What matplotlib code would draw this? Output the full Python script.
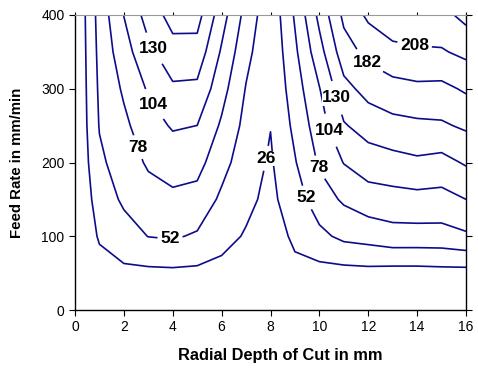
import matplotlib
matplotlib.use('Agg')
import matplotlib.pyplot as plt
import numpy as np

plt.rcParams['font.family'] = ['Liberation Sans', 'DejaVu Sans']

# grid: radial depth of cut (mm) x feed rate (mm/min)
depth = np.arange(0, 17, 1)
feed = np.arange(0, 401, 50)
levels = [26, 52, 78, 104, 130, 156, 182, 208, 234]

# one row per feed value, one column per depth value
z = np.array([
    [0, 0, 0, 0, 0, 0, 0, 0, 0, 0, 0, 0, 0, 0, 0, 0, 0],
    [0, 15.5, 20.5, 20.3, 21.0, 20.2, 19.3, 12.0, 8.0, 20.2, 17.1, 17.0, 18.0, 16.1, 16.1, 17.3, 17.0],
    [0, 28.9, 41.5, 52.5, 54.7, 49.1, 33.3, 24.0, 15.0, 30.2, 45.7, 58.0, 62.0, 68.1, 68.0, 68.3, 74.0],
    [0, 38.1, 56.1, 67.1, 72.3, 69.0, 47.2, 31.4, 20.0, 40.2, 65.8, 81.7, 92.3, 94.7, 96.4, 95.3, 104.0],
    [0, 47.2, 64.3, 81.5, 89.7, 86.9, 60.8, 37.8, 23.0, 50.2, 81.3, 104.9, 117.0, 121.0, 125.4, 121.7, 132.8],
    [0, 53.4, 72.4, 93.8, 106.5, 103.9, 74.2, 44.2, 26.6, 58.1, 92.1, 127.7, 141.0, 148.1, 151.0, 152.6, 160.0],
    [0, 56.3, 81.7, 106.9, 126.0, 124.6, 87.6, 50.6, 29.0, 65.6, 102.9, 148.0, 165.1, 173.1, 176.6, 175.5, 185.5],
    [0, 59.1, 93.1, 123.9, 146.2, 145.8, 100.8, 59.4, 31.0, 73.1, 120.3, 170.7, 189.5, 200.6, 204.1, 205.6, 214.1],
    [0, 62.0, 104.5, 141.0, 166.0, 166.0, 115.0, 69.0, 33.0, 81.0, 137.0, 188.0, 213.0, 226.0, 228.0, 226.0, 241.7],
])

# where the inline labels sit (data coords)
label_spots = [(3.48, 359), (3.27, 280), (2.59, 221), (3.89, 95), (7.75, 206),
               (9.34, 151), (9.89, 192), (10.32, 242), (10.64, 287),
               (11.87, 332), (13.91, 362)]

LINE = '#0c0c8a'

fig = plt.figure(figsize=(4.78, 3.68), dpi=100)
ax = fig.add_axes([75 / 478, 58 / 368, 391 / 478, 295 / 368])

cs = ax.contour(depth, feed, z, levels=levels, colors=LINE, linewidths=1.2)
ax.clabel(cs, fmt='%d', fontsize=12.5, inline=True, inline_spacing=3,
          manual=label_spots)
for t in cs.labelTexts:
    t.set_rotation(0)
    t.set_fontweight('bold')
    t.set_color('black')
    t.set_bbox(dict(facecolor='white', edgecolor='none', pad=0.3))

ax.set_xlim(0, 16)
ax.set_ylim(0, 400)
ax.set_xticks(range(0, 17, 2))
ax.set_yticks(range(0, 401, 100))
ax.tick_params(axis='both', labelsize=10, direction='out', length=4, width=0.8,
               top=True, right=True)
for tk in ax.xaxis.get_major_ticks():
    tk.tick2line.set_color('#999999')
    tk.tick2line.set_markersize(2)
ax.spines['top'].set_color('#999999')
for s in ['left', 'bottom', 'right']:
    ax.spines[s].set_linewidth(1.0)

ax.set_xlabel('Radial Depth of Cut in mm', fontsize=11.8, fontweight='bold')
ax.xaxis.set_label_coords(0.524, -0.13)
ax.set_ylabel('Feed Rate in mm/min', fontsize=10.8, fontweight='bold')
ax.yaxis.set_label_coords(-0.13, 0.5)

plt.savefig('out.png', dpi=100, facecolor='white')
